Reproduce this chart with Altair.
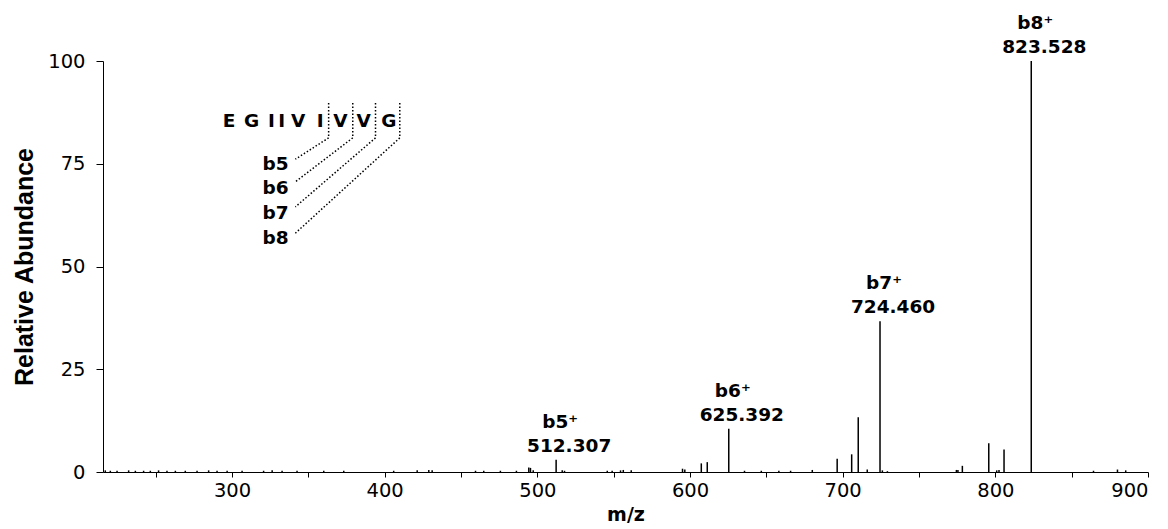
import altair as alt
import pandas as pd

# ---- spectrum peaks (m/z, relative abundance) ----
peak_mz = [823.53, 724.46, 710.2, 705.9, 696.4, 625.39, 611.3, 607.4, 512.31,
           795.7, 805.7, 778.4, 494.4, 495.5, 497.3, 595.1, 596.6, 774.5, 775.5,
           800.9, 802.4, 716.1, 726.0, 680.1, 880.0, 885.4, 864.3, 516.3, 517.8,
           545.8, 549.0, 554.5, 556.3, 561.5, 635.7, 646.7, 658.2, 665.9, 459.5,
           464.9, 475.8, 486.3, 421.3, 428.9, 431.1, 405.9, 373.2, 360.1, 342.6,
           332.8, 326.3, 320.7, 306.6, 296.8, 290.2, 284.7, 277.1, 269.4, 262.9,
           257.4, 251.9, 246.5, 242.1, 236.7, 232.3, 224.7, 220.3, 217.0, 729.3]
peak_int = [100.0, 36.7, 13.3, 4.3, 3.2, 10.5, 2.4, 2.1, 3.0,
            7.0, 5.5, 1.5, 1.1, 1.0, 0.4, 0.8, 0.6, 0.5, 0.5,
            0.4, 0.5, 0.6, 0.4, 0.5, 0.6, 0.4, 0.3, 0.4, 0.3,
            0.3, 0.3, 0.4, 0.5, 0.4, 0.3, 0.3, 0.3, 0.3, 0.3,
            0.3, 0.3, 0.3, 0.4, 0.5, 0.4, 0.3, 0.3, 0.3, 0.3,
            0.3, 0.4, 0.3, 0.3, 0.3, 0.3, 0.4, 0.3, 0.3, 0.3,
            0.3, 0.4, 0.3, 0.3, 0.3, 0.4, 0.3, 0.3, 0.4, 0.2]

# ---- labelled b ions ----
ion_mz = [512.31, 625.39, 724.46, 823.53]
ion_int = [3.0, 10.5, 36.7, 100.0]
ion_name = ["b5⁺", "b6⁺", "b7⁺", "b8⁺"]
ion_label = ["512.307", "625.392", "724.460", "823.528"]

# ---- sequence annotation ----
seq_letters = ["E", "G", "I", "I", "V", "I", "V", "V", "G"]
seq_mz = [298.1, 312.9, 325.8, 332.5, 343.3, 357.7, 371.0, 386.3, 402.7]
seq_y = 84.0
cut_mz = [363.3, 379.1, 394.0, 409.9]
cut_top = 89.8
cut_bottom = 81.3
frag_names = ["b5", "b6", "b7", "b8"]
frag_line_end_mz = 341.5
frag_line_end_y = [76.1, 70.6, 64.5, 58.1]
frag_label_mz = 337.1
frag_label_y = [73.5, 67.6, 61.5, 55.4]

X_DOMAIN = [215.5, 900]
Y_DOMAIN = [0, 100]
FONT = "DejaVu Sans"

xs = alt.Scale(domain=X_DOMAIN, nice=False, zero=False)
ys = alt.Scale(domain=Y_DOMAIN, nice=False)

peaks = pd.DataFrame({"mz": peak_mz, "inten": peak_int})
ions = pd.DataFrame({"mz": ion_mz, "inten": ion_int, "name": ion_name, "label": ion_label})
seq = pd.DataFrame({"mz": seq_mz, "letter": seq_letters, "y": [seq_y] * len(seq_letters)})
cuts = pd.DataFrame({"mz": cut_mz, "top": [cut_top] * 4, "bottom": [cut_bottom] * 4,
                     "end_mz": [frag_line_end_mz] * 4, "end_y": frag_line_end_y})
frags = pd.DataFrame({"mz": [frag_label_mz] * 4, "y": frag_label_y, "name": frag_names})

x_axis = alt.Axis(
    values=list(range(250, 901, 50)),
    labelExpr="datum.value % 100 === 0 ? datum.label : ''",
    format="d", tickSize=5, labelPadding=4, grid=False,
    title="m/z", titleFont=FONT, titleFontSize=19, titleFontWeight="bold",
    titlePadding=6,
)
y_axis = alt.Axis(
    values=[0, 25, 50, 75, 100], tickSize=7, labelPadding=11, grid=False,
    title="Relative Abundance", titleFont="Liberation Sans", titleFontSize=25,
    titleFontWeight="bold", titlePadding=10,
)

base_peaks = alt.Chart(peaks).mark_rule(color="black", strokeWidth=1.5).encode(
    x=alt.X("mz:Q", scale=xs, axis=x_axis),
    y=alt.Y("inten:Q", scale=ys, axis=y_axis),
    y2=alt.datum(0),
)

ion_names = alt.Chart(ions).mark_text(
    font=FONT, fontSize=18.5, fontWeight="bold", color="black",
    align="center", baseline="alphabetic", dx=4, dy=-32,
).encode(x=alt.X("mz:Q", scale=xs), y=alt.Y("inten:Q", scale=ys), text="name:N")

ion_labels = alt.Chart(ions).mark_text(
    font=FONT, fontSize=18.5, fontWeight="bold", color="black",
    align="center", baseline="alphabetic", dx=13, dy=-8,
).encode(x=alt.X("mz:Q", scale=xs), y=alt.Y("inten:Q", scale=ys), text="label:N")

seq_text = alt.Chart(seq).mark_text(
    font=FONT, fontSize=18.5, fontWeight="bold", color="black",
    align="center", baseline="alphabetic",
).encode(x=alt.X("mz:Q", scale=xs), y=alt.Y("y:Q", scale=ys), text="letter:N")

cut_v = alt.Chart(cuts).mark_rule(color="black", strokeWidth=1.5, strokeDash=[1.5, 2]).encode(
    x=alt.X("mz:Q", scale=xs), y=alt.Y("top:Q", scale=ys), y2="bottom:Q",
)
cut_d = alt.Chart(cuts).mark_rule(color="black", strokeWidth=1.5, strokeDash=[1.5, 2]).encode(
    x=alt.X("mz:Q", scale=xs), x2="end_mz:Q", y=alt.Y("bottom:Q", scale=ys), y2="end_y:Q",
)
frag_text = alt.Chart(frags).mark_text(
    font=FONT, fontSize=18.5, fontWeight="bold", color="black",
    align="right", baseline="alphabetic",
).encode(x=alt.X("mz:Q", scale=xs), y=alt.Y("y:Q", scale=ys), text="name:N")

chart = alt.layer(
    base_peaks, ion_names, ion_labels, seq_text, cut_v, cut_d, frag_text
).properties(
    width=1045, height=411,
    padding={"left": 103, "top": 61, "right": 20, "bottom": 57},
    autosize=alt.AutoSizeParams(type="none"),
    background="white",
).configure_view(stroke=None).configure_axis(
    domainColor="black", tickColor="black", labelColor="black", titleColor="black",
    labelFont=FONT, labelFontSize=19.5, domainWidth=1, tickWidth=1,
)

chart.save("out.html", embed_options={"renderer": "svg", "actions": False})
